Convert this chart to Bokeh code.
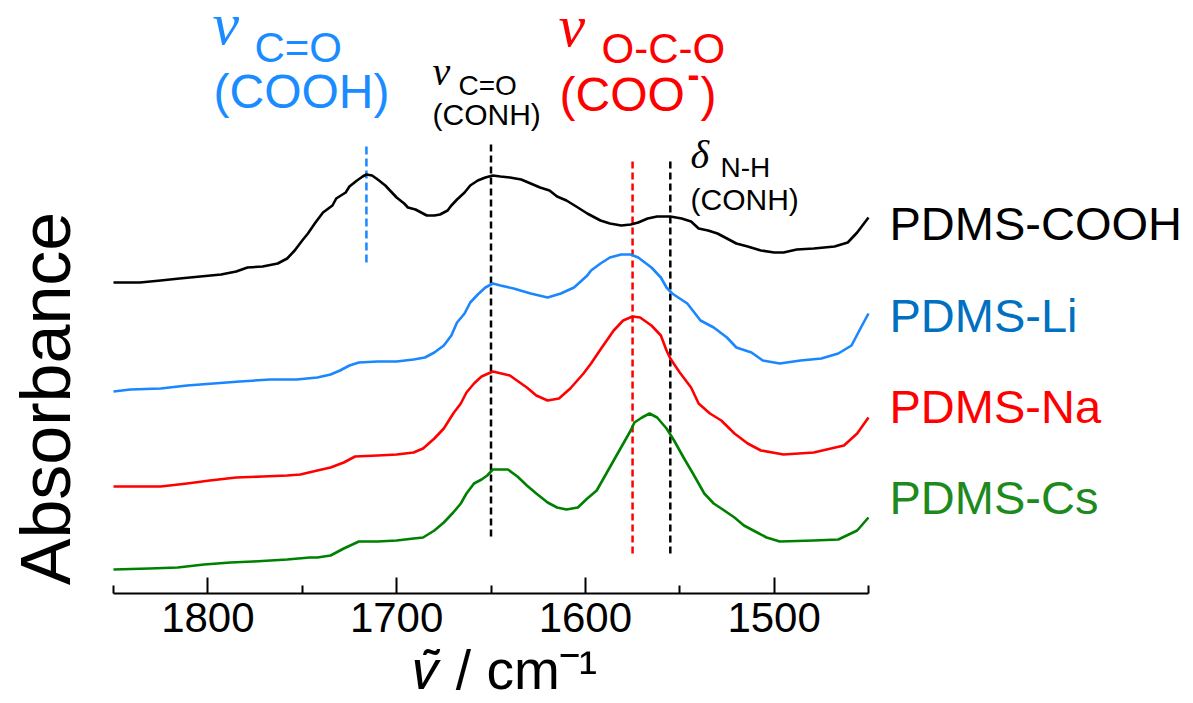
import math
from bokeh.plotting import figure
from bokeh.models import Range1d, FixedTicker, Label
from bokeh.embed import file_html
from bokeh.resources import INLINE

# ---------------- data ----------------
wn_cooh = [1850, 1836, 1825, 1815, 1804, 1793, 1785, 1779, 1771, 1763,
           1758, 1754, 1750, 1747, 1743, 1739, 1734, 1732, 1727, 1725,
           1721, 1718, 1716, 1713, 1710, 1706, 1703, 1700, 1696, 1694,
           1690, 1687, 1684, 1680, 1677, 1673, 1671, 1668, 1664, 1661,
           1657, 1653, 1649, 1645, 1640, 1634, 1629, 1624, 1619, 1615,
           1610, 1604, 1599, 1597, 1592, 1587, 1581, 1576, 1572, 1567,
           1562, 1555, 1549, 1544, 1540, 1535, 1530, 1525, 1520, 1514,
           1507, 1500, 1495, 1488, 1479, 1468, 1461, 1456, 1450]
abs_cooh = [3.11, 3.11, 3.13, 3.15, 3.17, 3.19, 3.22, 3.26, 3.27, 3.30,
            3.35, 3.43, 3.53, 3.60, 3.71, 3.81, 3.88, 3.95, 4.01, 4.07,
            4.13, 4.17, 4.19, 4.18, 4.14, 4.08, 4.02, 3.96, 3.90, 3.86,
            3.84, 3.81, 3.78, 3.78, 3.79, 3.83, 3.88, 3.94, 4.01, 4.08,
            4.13, 4.16, 4.18, 4.17, 4.16, 4.14, 4.10, 4.06, 4.03, 3.97,
            3.93, 3.86, 3.80, 3.78, 3.73, 3.70, 3.68, 3.69, 3.71, 3.75,
            3.77, 3.77, 3.75, 3.72, 3.65, 3.63, 3.60, 3.55, 3.50, 3.47,
            3.43, 3.41, 3.41, 3.44, 3.45, 3.47, 3.51, 3.61, 3.76]

wn_li = [1850, 1841, 1825, 1811, 1797, 1783, 1767, 1753, 1742, 1735,
         1730, 1725, 1720, 1710, 1700, 1691, 1685, 1680, 1675, 1671,
         1668, 1664, 1661, 1657, 1653, 1649, 1645, 1638, 1629, 1620,
         1613, 1606, 1599, 1597, 1592, 1587, 1581, 1576, 1572, 1565,
         1560, 1557, 1554, 1546, 1539, 1532, 1525, 1520, 1512, 1506,
         1497, 1486, 1475, 1466, 1459, 1454, 1450]
abs_li = [2.02, 2.04, 2.05, 2.08, 2.10, 2.12, 2.14, 2.14, 2.16, 2.19,
          2.23, 2.28, 2.31, 2.32, 2.32, 2.34, 2.36, 2.41, 2.48, 2.58,
          2.71, 2.80, 2.91, 2.99, 3.06, 3.10, 3.08, 3.05, 3.00, 2.96,
          3.00, 3.06, 3.18, 3.23, 3.30, 3.36, 3.39, 3.39, 3.36, 3.26,
          3.16, 3.06, 3.00, 2.90, 2.73, 2.66, 2.56, 2.46, 2.41, 2.33,
          2.30, 2.33, 2.35, 2.40, 2.48, 2.66, 2.80]

wn_na = [1850, 1825, 1811, 1799, 1785, 1771, 1758, 1751, 1742, 1735,
         1728, 1722, 1710, 1700, 1691, 1686, 1680, 1675, 1670, 1666,
         1663, 1659, 1655, 1649, 1640, 1631, 1626, 1620, 1614, 1608,
         1601, 1597, 1592, 1585, 1580, 1575, 1571, 1565, 1560, 1557,
         1555, 1550, 1544, 1540, 1534, 1528, 1521, 1514, 1507, 1495,
         1479, 1463, 1456, 1450]
abs_na = [1.07, 1.07, 1.10, 1.13, 1.16, 1.17, 1.18, 1.19, 1.23, 1.26,
          1.31, 1.37, 1.38, 1.39, 1.41, 1.45, 1.55, 1.65, 1.80, 1.90,
          2.01, 2.10, 2.17, 2.22, 2.18, 2.06, 1.98, 1.93, 1.95, 2.05,
          2.20, 2.30, 2.44, 2.63, 2.73, 2.77, 2.76, 2.68, 2.58, 2.43,
          2.35, 2.21, 2.06, 1.90, 1.80, 1.73, 1.60, 1.50, 1.43, 1.39,
          1.41, 1.48, 1.60, 1.76]

wn_cs = [1850, 1831, 1816, 1802, 1788, 1776, 1758, 1746, 1742, 1735,
         1728, 1720, 1710, 1700, 1691, 1686, 1680, 1675, 1670, 1666,
         1663, 1659, 1655, 1652, 1649, 1641, 1636, 1631, 1626, 1620,
         1615, 1610, 1604, 1599, 1594, 1585, 1576, 1574, 1570, 1566,
         1562, 1557, 1553, 1548, 1543, 1537, 1532, 1528, 1521, 1516,
         1509, 1504, 1497, 1479, 1466, 1456, 1450]
abs_cs = [0.24, 0.25, 0.26, 0.29, 0.31, 0.32, 0.34, 0.36, 0.36, 0.38,
          0.45, 0.52, 0.52, 0.53, 0.55, 0.56, 0.63, 0.71, 0.81, 0.90,
          1.00, 1.10, 1.14, 1.18, 1.24, 1.24, 1.17, 1.08, 1.00, 0.91,
          0.86, 0.84, 0.86, 0.95, 1.03, 1.33, 1.63, 1.71, 1.76, 1.80,
          1.76, 1.65, 1.53, 1.36, 1.20, 1.00, 0.90, 0.85, 0.76, 0.68,
          0.61, 0.56, 0.52, 0.53, 0.54, 0.63, 0.76]

series_names = ["PDMS-COOH", "PDMS-Li", "PDMS-Na", "PDMS-Cs"]

band_pos = [1716, 1650, 1575, 1555]
band_top = [4.50, 4.53, 4.36, 4.36]
band_bottom = [3.31, 0.57, 0.40, 0.40]

major_ticks = [1800, 1700, 1600, 1500]
minor_ticks = [1850, 1750, 1650, 1550, 1450]
axis_start, axis_end = 1850, 1450

# ---------------- layout / styles ----------------
W, H = 1193, 703
AX_L, AX_R = 113, 868          # page columns where the x axis begins / ends
BOTTOM = 110                   # space under the plotting frame
FRAME_H = H - BOTTOM
s = (axis_start - axis_end) / (AX_R - AX_L)      # data units per pixel
XL = axis_start + AX_L * s
XR = axis_start - (W - AX_L) * s
Y0, Y1 = 0, FRAME_H / 100.0
BASE_SHIFT = 0.36              # renderer puts the baseline this much (em) low

SANS = "Liberation Sans"
SERIF = "Liberation Serif"

curve_colors = ["#000000", "#1a86ff", "#ff0000", "#008000"]
label_colors = ["#000000", "#0070c0", "#ff0000", "#1e8a1e"]
band_colors = ["#1a86ff", "#000000", "#ff0000", "#000000"]
band_dash = ["8 4", "7 4", "7 4", "7 4"]

p = figure(width=W, height=H, x_range=Range1d(XL, XR), y_range=Range1d(Y0, Y1),
           output_backend="svg", toolbar_location=None, y_axis_location=None,
           min_border_left=0, min_border_right=0,
           min_border_top=0, min_border_bottom=BOTTOM)
p.outline_line_color = None
p.xgrid.visible = False
p.ygrid.visible = False
p.background_fill_color = "white"
p.border_fill_color = "white"

ax = p.xaxis[0]
ax.bounds = (axis_end, axis_start)
ax.ticker = FixedTicker(ticks=major_ticks, minor_ticks=minor_ticks)
ax.axis_line_width = 2
ax.axis_line_color = "black"
ax.major_tick_in = 16
ax.major_tick_out = 0
ax.minor_tick_in = 8
ax.minor_tick_out = 0
ax.major_tick_line_width = 2
ax.minor_tick_line_width = 2
ax.major_label_text_font = SANS
ax.major_label_text_font_size = "42px"
ax.major_label_text_color = "black"
ax.major_label_standoff = 9
ax.axis_label = "\U0001D708\u0303 / cm\u207b\u00b9" + "\u00a0" * 12
ax.axis_label_text_font = SANS
ax.axis_label_text_font_style = "normal"
ax.axis_label_text_font_size = "55px"
ax.axis_label_text_color = "black"
ax.axis_label_standoff = 4


def at(px, py):
    """page pixel -> data coordinates (used only to place texts)"""
    return XL - px * s, Y1 - py / 100.0


# dashed band markers
for xpos, yt, yb, c, d in zip(band_pos, band_top, band_bottom, band_colors, band_dash):
    p.segment(x0=[xpos], y0=[yb], x1=[xpos], y1=[yt], line_color=c,
              line_width=2.5, line_dash=d)

# spectra
all_x = [wn_cooh, wn_li, wn_na, wn_cs]
all_y = [abs_cooh, abs_li, abs_na, abs_cs]
for xs, ys, c in zip(all_x, all_y, curve_colors):
    p.line(xs, ys, line_color=c, line_width=2.6, line_join="round")


def txt(t, px, py, size, color="black", font=SANS, style="normal",
        align="left", vertical=False):
    if vertical:
        px = px - BASE_SHIFT * size
        angle = math.pi / 2
    else:
        py = py - BASE_SHIFT * size
        angle = 0.0
    x, y = at(px, py)
    p.add_layout(Label(x=x, y=y, text=t, text_font=font,
                       text_font_size=f"{size}px", text_color=color,
                       text_font_style=style, text_align=align,
                       text_baseline="alphabetic", angle=angle))


blue_t = "#1a8cff"
# nu C=O (COOH)
txt("\u03bd", 212, 45, 60, blue_t, SERIF, "italic")
txt("C=O", 254, 62, 42, blue_t)
txt("(COOH)", 213, 108, 48, blue_t)
# nu C=O (CONH)
txt("\u03bd", 432, 85, 40, "black", SERIF, "italic")
txt("C=O", 458, 95, 28)
txt("(CONH)", 432, 125, 30)
# nu O-C-O (COO-)
txt("\u03bd", 558, 47, 60, "#ff0000", SERIF, "italic")
txt("O-C-O", 601, 63, 42, "#ff0000")
txt("(COO", 559, 111, 48, "#ff0000")
txt("-", 687, 86, 36, "#ff0000", style="bold")
txt(")", 700, 111, 48, "#ff0000")
# delta N-H (CONH)
txt("\u03b4", 690, 168, 40, "black", SERIF, "italic")
txt("N-H", 720, 177, 28)
txt("(CONH)", 690, 210, 30)

# series names
name_base = [240, 332, 423, 514]
for name, c, b in zip(series_names, label_colors, name_base):
    txt(name, 889, b, 47, c)

# y title
txt("Absorbance", 71, 398, 70, "black", align="center", vertical=True)

open("out.html", "w").write(file_html(p, INLINE))
